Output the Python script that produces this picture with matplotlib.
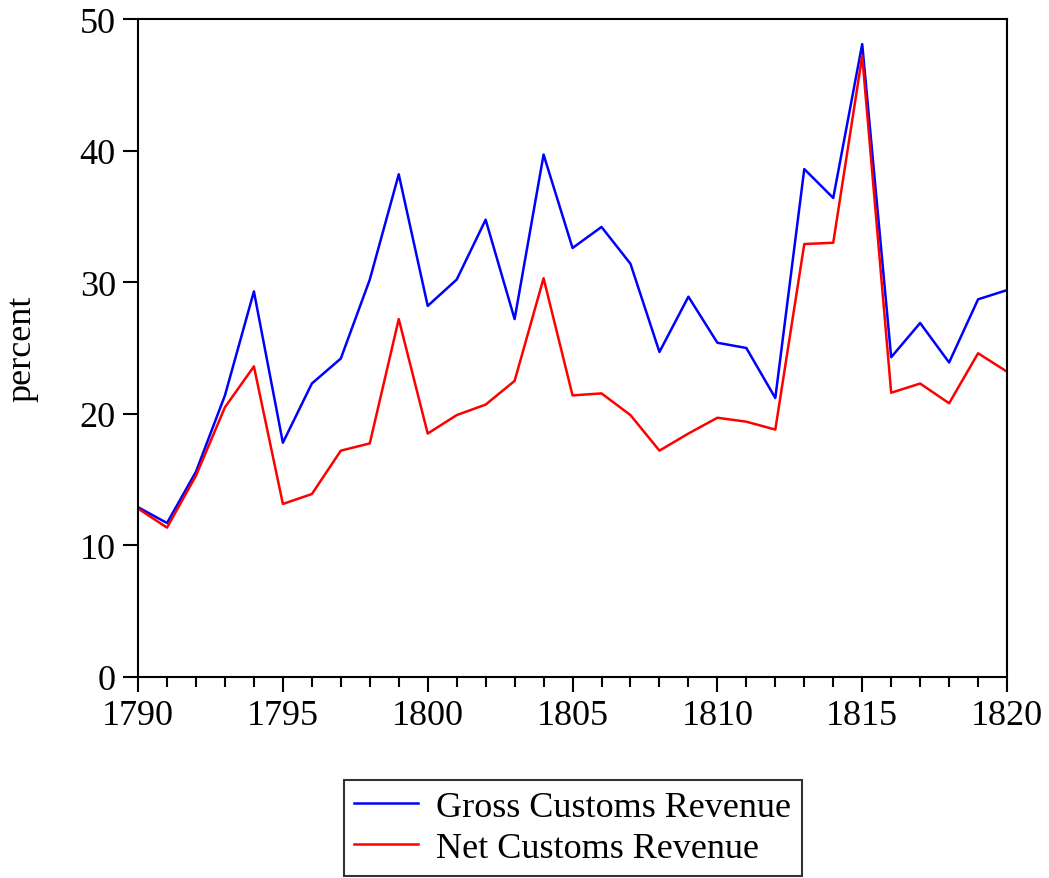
import numpy as np
import matplotlib
matplotlib.use("Agg")
import matplotlib.pyplot as plt
from matplotlib.ticker import MultipleLocator

years = np.arange(1790, 1821)

gross = [12.9, 11.7, 15.6, 21.4, 29.3, 17.8, 22.3, 24.2, 30.2, 38.2,
         28.2, 30.2, 34.75, 27.2, 39.7, 32.6, 34.2, 31.4, 24.7, 28.9,
         25.4, 25.0, 21.2, 38.6, 36.4, 48.1, 24.3, 26.9, 23.9, 28.7, 29.4]

net = [12.8, 11.35, 15.3, 20.5, 23.6, 13.15, 13.9, 17.2, 17.75, 27.2,
       18.5, 19.9, 20.7, 22.5, 30.3, 21.4, 21.55, 19.9, 17.2, 18.5,
       19.7, 19.4, 18.8, 32.9, 33.0, 47.2, 21.6, 22.3, 20.8, 24.6, 23.2]

plt.rcParams['font.family'] = ['Liberation Serif', 'DejaVu Serif']

fig = plt.figure(figsize=(10.49, 8.79), dpi=100)
ax = fig.add_axes([0.1316, 0.2287, 0.8284, 0.7485])

ax.plot(years, gross, color='#0000ff', lw=1.8, label='Gross Customs Revenue')
ax.plot(years, net, color='#ff0000', lw=1.8, label='Net Customs Revenue')

ax.set_xlim(1790, 1820)
ax.set_ylim(0, 50)
ax.xaxis.set_major_locator(MultipleLocator(5))
ax.xaxis.set_minor_locator(MultipleLocator(1))
ax.yaxis.set_major_locator(MultipleLocator(10))

for s in ax.spines.values():
    s.set_linewidth(1.5)
ax.tick_params(which='major', direction='out', length=11, width=1.5, labelsize=26, pad=5)
ax.tick_params(which='minor', direction='out', length=7, width=1.5)
ax.tick_params(axis='y', which='minor', left=False)

ax.set_ylabel('percent', fontsize=26, labelpad=30)

leg = ax.legend(loc='upper center', bbox_to_anchor=(0.5, -0.156), fontsize=26,
                frameon=True, fancybox=False, edgecolor='black',
                handlelength=1.75, borderpad=0.3, labelspacing=0.22,
                handletextpad=0.5, borderaxespad=0)
leg.get_frame().set_linewidth(1.5)

fig.savefig('out.png', dpi=100)
